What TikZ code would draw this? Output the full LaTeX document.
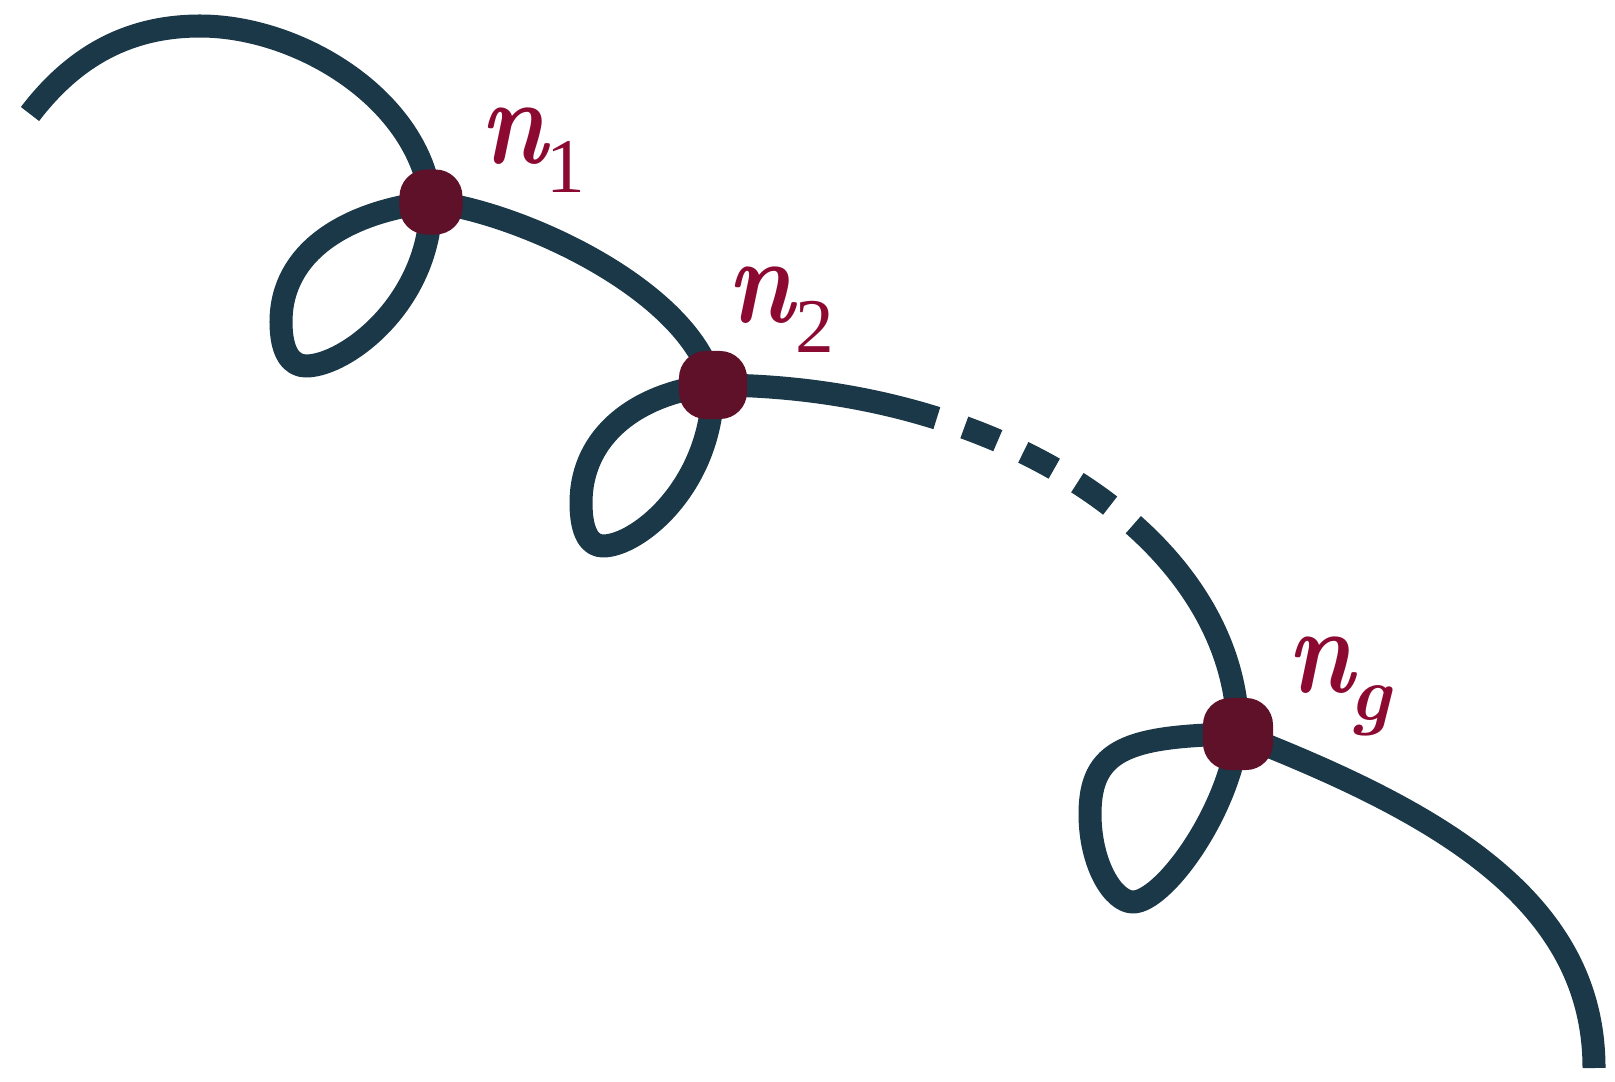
\documentclass[tikz,border=0pt]{standalone}
\usepackage{fontspec}
\newfontfamily\libserif{Liberation Serif}
\begin{document}
\begin{tikzpicture}[x=0.01cm,y=-0.01cm]
\definecolor{wirec}{RGB}{26,56,71}
\definecolor{dotc}{RGB}{94,17,41}
\definecolor{labc}{RGB}{140,10,50}
\tikzset{
  wire/.style={draw=wirec,line width=0.23cm,line cap=butt,line join=round},
  dot/.style={fill=dotc,draw=none,rectangle,rounded corners=0.27cm,inner sep=0pt},
  lab/.style={text=labc,inner sep=0pt,anchor=base west,font=\fontsize{35}{38}\selectfont}
}
\newcommand{\nsym}{\rlap{\scalebox{0.83}[1]{\bfseries\itshape n}}}
\newcommand{\subup}[2]{\hspace{#1}\raisebox{-0.29cm}{\fontsize{22}{24}\selectfont\libserif #2}}
\newcommand{\subital}[2]{\hspace{#1}\raisebox{-0.28cm}{\fontsize{22}{24}\selectfont\bfseries\itshape #2}}
\useasboundingbox (0,0) rectangle (1615,1082);
% positions
\coordinate (c1) at (431,202);
\coordinate (c2) at (713,385);
\coordinate (c3) at (1238,734);
\coordinate (headstart) at (30,114);
\coordinate (tailend) at (1594,1068);
% start arc into n1
\draw[wire] (headstart) .. controls (75,55) and (130,26) .. (200,26)
                        .. controls (300,26) and (420,100) .. (c1);
% loop 1
\draw[wire] (c1) .. controls (431,302) and (346,366) .. (306,366)
                 .. controls (291,366) and (281,352) .. (281,322)
                 .. controls (281,252) and (346,212) .. (c1);
% n1 -> n2
\draw[wire] (c1) .. controls (520,212) and (690,290) .. (c2);
% loop 2
\draw[wire] (c2) .. controls (713,485) and (638,546) .. (603,546)
                 .. controls (590,546) and (581,533) .. (581,503)
                 .. controls (581,435) and (638,393) .. (c2);
% n2 -> ng, partly dashed
\draw[wire,dash pattern=on 2.27cm off 0.29cm on 0.36cm off 0.28cm on 0.35cm off 0.27cm on 0.40cm off 0.30cm on 12cm]
  (c2) .. controls (1003,385) and (1238,541) .. (c3);
% loop g
\draw[wire] (c3) .. controls (1228,814) and (1163,902) .. (1133,902)
                 .. controls (1113,902) and (1090,864) .. (1090,814)
                 .. controls (1090,749) and (1128,736) .. (c3);
% tail
\draw[wire] (c3) .. controls (1438,812) and (1594,900) .. (tailend);
% dots
\node[dot,minimum width=0.63cm,minimum height=0.65cm] (n1) at (c1) {};
\node[dot,minimum size=0.68cm] (n2) at (c2) {};
\node[dot,minimum width=0.70cm,minimum height=0.72cm] (ng) at (c3) {};
% labels
\node[lab] (l1) at (480,163) {\nsym\subup{0.66cm}{1}};
\node[lab] (l2) at (727,323) {\nsym\subup{0.68cm}{2}};
\node[lab] (lg) at (1287,692) {\nsym\subital{0.62cm}{g}};
\end{tikzpicture}
\end{document}
